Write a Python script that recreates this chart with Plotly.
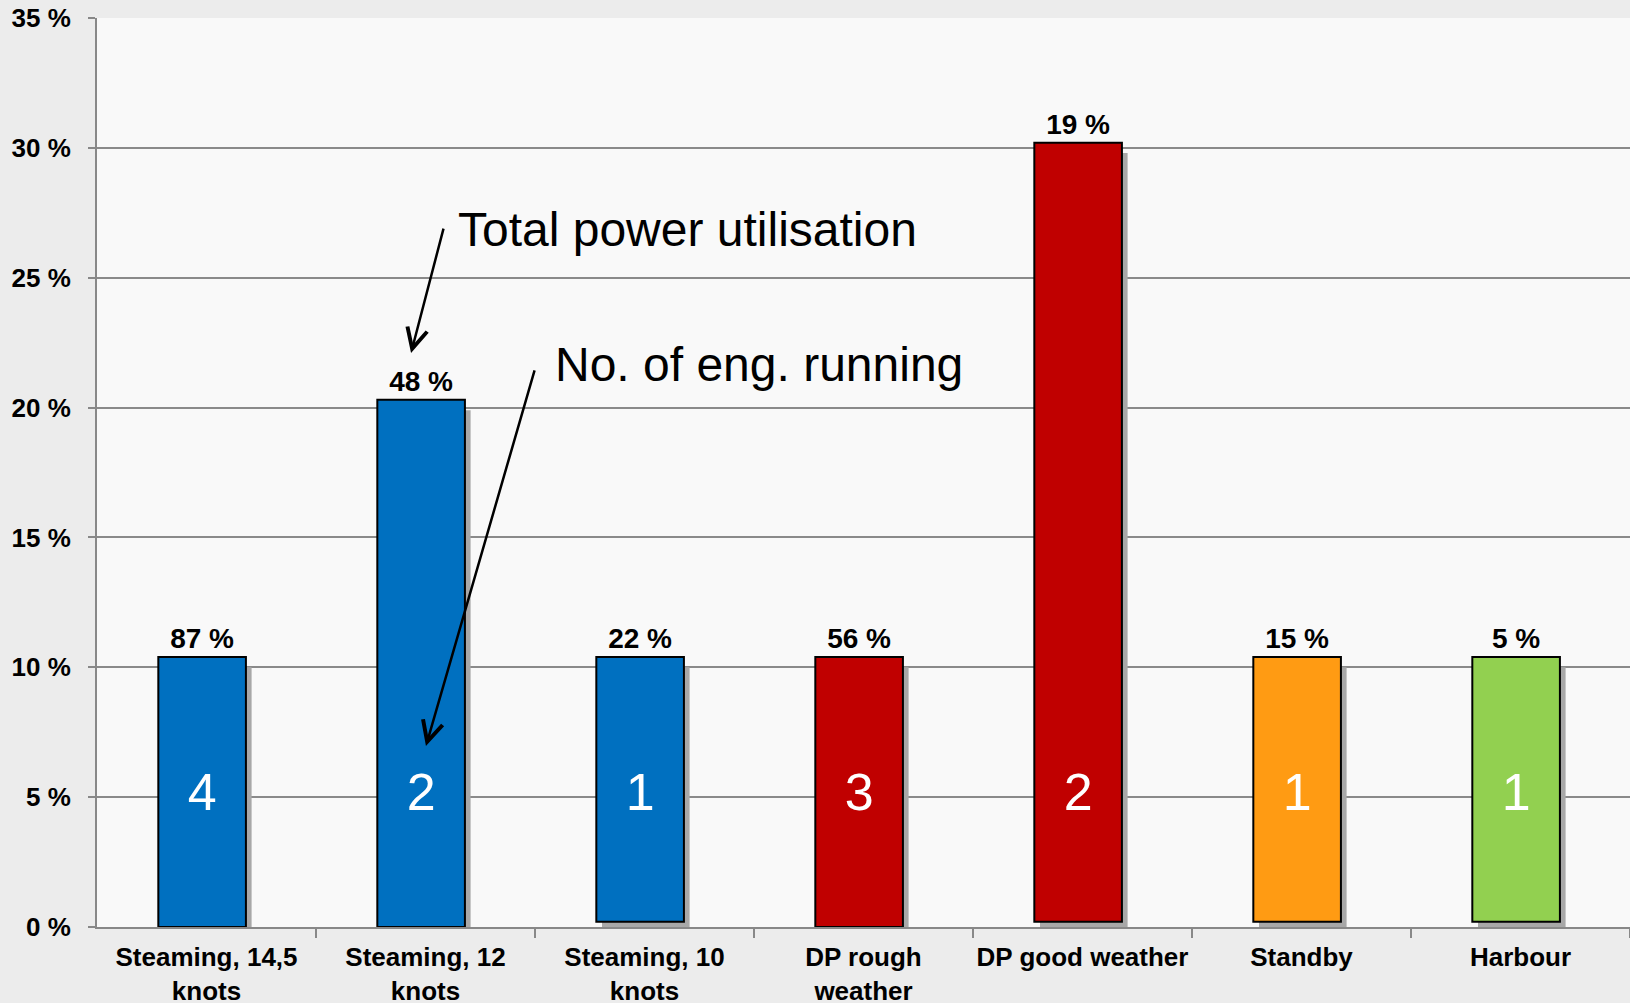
import plotly.graph_objects as go

categories = ["Steaming, 14,5<br>knots", "Steaming, 12<br>knots", "Steaming, 10<br>knots",
              "DP rough<br>weather", "DP good weather", "Standby", "Harbour"]
bar_top = [10.4, 20.3, 10.4, 10.4, 30.2, 10.4, 10.4]
bar_base = [0, 0, 0.2, 0, 0.2, 0.2, 0.2]
power_util = ["87 %", "48 %", "22 %", "56 %", "19 %", "15 %", "5 %"]
engines = ["4", "2", "1", "3", "2", "1", "1"]
colors = ["#0070C0", "#0070C0", "#0070C0", "#C00000", "#C00000", "#FF9B13", "#92D050"]
y_ticks = [0, 5, 10, 15, 20, 25, 30, 35]
y_tick_text = ["0 %", "5 %", "10 %", "15 %", "20 %", "25 %", "30 %", "35 %"]
eng_label_level = 5.0

NARROW = "Liberation Sans Narrow, Arial Narrow, Liberation Sans, Arial, sans-serif"
SANS = "Liberation Sans, Arial, sans-serif"

heights = [t - b for t, b in zip(bar_top, bar_base)]
shadow_base = [max(b - 0.25, 0) for b in bar_base]
shadow_h = [t - 0.4 - sb for t, sb in zip(bar_top, shadow_base)]
xidx = list(range(len(categories)))

fig = go.Figure()
# shadows
fig.add_trace(go.Bar(x=xidx, y=shadow_h, base=shadow_base, width=0.4, offset=-0.22 + 0.026,
                     marker=dict(color="#a8a8a8", line=dict(width=0)),
                     hoverinfo="skip", showlegend=False))
# main bars
fig.add_trace(go.Bar(x=xidx, y=heights, base=bar_base, width=0.4, offset=-0.22,
                     marker=dict(color=colors, line=dict(color="black", width=2)),
                     text=power_util, textposition="outside", cliponaxis=False,
                     outsidetextfont=dict(family=NARROW, size=28, color="black", weight="bold"),
                     showlegend=False))
# number of engines
fig.add_trace(go.Scatter(x=[i - 0.02 for i in xidx], y=[eng_label_level] * len(xidx), mode="text",
                         text=engines, textfont=dict(family=SANS, size=52, color="white"),
                         showlegend=False, hoverinfo="skip"))

fig.add_annotation(x=0.934, y=22.1, ax=1.084, ay=26.95, xref="x", yref="y", axref="x", ayref="y",
                   showarrow=True, arrowhead=5, arrowsize=1.6, arrowwidth=2.5, arrowcolor="black", text="")
fig.add_annotation(x=1.002, y=6.97, ax=1.5, ay=21.49, xref="x", yref="y", axref="x", ayref="y",
                   showarrow=True, arrowhead=5, arrowsize=1.6, arrowwidth=2.5, arrowcolor="black", text="")
fig.add_annotation(x=1.14, y=26.85, xref="x", yref="y", xanchor="left", yanchor="middle", showarrow=False,
                   text="Total power utilisation", font=dict(family=SANS, size=48, color="black"))
fig.add_annotation(x=1.58, y=21.65, xref="x", yref="y", xanchor="left", yanchor="middle", showarrow=False,
                   text="No. of eng. running", font=dict(family=SANS, size=48, color="black"))

fig.update_layout(
    width=1630, height=1003,
    margin=dict(l=97, r=0, t=18, b=76),
    barmode="overlay",
    paper_bgcolor="#ececec",
    plot_bgcolor="#f9f9f9",
    xaxis=dict(range=[-0.5, 6.5], tickmode="array", tickvals=xidx, ticktext=categories,
               automargin=False,
               showgrid=False, zeroline=False, showline=True, linecolor="#888", linewidth=2,
               ticks="", ticklabelstandoff=6,
               tickfont=dict(family=NARROW, size=26, color="black", weight="bold"),
               minor=dict(tickmode="array", tickvals=[i + 0.5 for i in xidx], ticks="outside",
                          ticklen=9, tickcolor="#888", tickwidth=2, showgrid=False)),
    yaxis=dict(range=[0, 35], tickmode="array", tickvals=y_ticks, ticktext=y_tick_text,
               automargin=False,
               showgrid=True, gridcolor="#8a8a8a",
               gridwidth=2, zeroline=False, showline=True, linecolor="#888", linewidth=2,
               ticks="outside", ticklen=7, tickcolor="#888", tickwidth=2, ticklabelstandoff=12,
               tickfont=dict(family=NARROW, size=26, color="black", weight="bold")),
)

fig.write_html("out.html", config={"displayModeBar": False},
               post_script="document.body.style.margin='0';document.body.style.background='#ececec';")
